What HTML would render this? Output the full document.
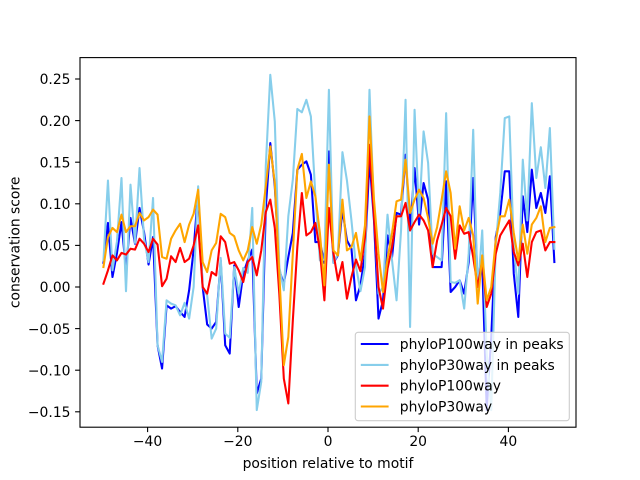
<!DOCTYPE html>
<html><head><meta charset="utf-8"><style>
html,body{margin:0;padding:0;background:#fff;}
svg{display:block;}
text{font-family:"DejaVu Sans","Liberation Sans",sans-serif;font-size:13.9px;fill:#000;}
</style></head><body>
<svg width="640" height="480" viewBox="0 0 640 480" xmlns="http://www.w3.org/2000/svg">
<rect x="0" y="0" width="640" height="480" fill="#fff"/>
<defs><clipPath id="ax"><rect x="80" y="57.6" width="496" height="369.6"/></clipPath></defs>
<g clip-path="url(#ax)" fill="none" stroke-width="2.08" stroke-linejoin="round" stroke-linecap="square">
<polyline vector-effect="non-scaling-stroke" stroke="#0000ff" transform="matrix(4.5091 0 0 -0.832 103.45 287)" points="0,29 1,77 2,12 3,41 4,78 5,20 6,83 7,52 8,95 9,66 10,27 11,60 12,-70 13,-98 14,-22 15,-26 16,-23 17,-30 18,-36 19,-4 20,45 21,115 22,0 23,-45 24,-50 25,-42 26,32 27,-70 28,-80 29,26 30,-24 31,16 32,32 33,45 34,-128 35,-110 36,95 37,173 38,121 39,20 40,4 41,36 42,65 43,141 44,147 45,151 46,135 47,54 48,54 49,29 50,163 51,29 52,38 53,93 54,56 55,46 56,-16 57,2 58,40 59,153 60,80 61,-38 62,-16 63,62 64,36 65,89 66,87 67,159 68,68 69,143 70,75 71,125 72,105 73,24 74,24 75,24 76,127 77,-6 78,0 79,8 80,-8 81,30 82,131 83,4 84,30 85,-148 86,-60 87,60 88,89 89,139 90,139 91,16 92,-36 93,109 94,66 95,141 96,95 97,113 98,89 99,133 100,30"/>
<polyline vector-effect="non-scaling-stroke" stroke="#87ceeb" transform="matrix(4.5091 0 0 -0.832 103.45 287)" points="0,32 1,128 2,20 3,55 4,131 5,-5 6,123 7,53 8,143 9,58 10,30 11,107 12,-70 13,-90 14,-16 15,-20 16,-22 17,-34 18,-19 19,-38 20,0 21,121 22,0 23,-10 24,-62 25,-50 26,35 27,-56 28,-61 29,24 30,-8 31,23 32,17 33,95 34,-148 35,-114 36,145 37,255 38,199 39,24 40,-4 41,85 42,129 43,214 44,210 45,225 46,205 47,110 48,32 49,33 50,237 51,29 52,40 53,162 54,128 55,80 56,25 57,-5 58,24 59,237 60,93 61,-8 62,0 63,87 64,32 65,-16 66,68 67,225 68,-48 69,213 70,85 71,187 72,149 73,40 74,36 75,32 76,209 77,6 78,5 79,8 80,-26 81,40 82,189 83,-8 84,68 85,-80 86,-148 87,50 88,113 89,203 90,205 91,48 92,-8 93,153 94,80 95,221 96,131 97,168 98,119 99,191 100,46"/>
<polyline vector-effect="non-scaling-stroke" stroke="#ff0000" transform="matrix(4.5091 0 0 -0.832 103.45 287)" points="0,4 1,20 2,38 3,32 4,41 5,39 6,46 7,45 8,58 9,52 10,42 11,58 12,51 13,1 14,10 15,37 16,30 17,47 18,30 19,34 20,50 21,74 22,0 23,-8 24,18 25,14 26,61 27,54 28,28 29,30 30,20 31,6 32,30 33,36 34,14 35,44 36,90 37,105 38,71 39,-8 40,-110 41,-140 42,-40 43,48 44,113 45,62 46,66 47,77 48,44 49,-16 50,95 51,41 52,8 53,30 54,-14 55,12 56,33 57,19 58,60 59,171 60,85 61,0 62,-26 63,22 64,48 65,85 66,85 67,101 68,68 69,78 70,87 71,80 72,68 73,24 74,56 75,75 76,95 77,85 78,34 79,74 80,64 81,66 82,36 83,0 84,32 85,-24 86,-8 87,40 88,62 89,71 90,80 91,42 92,26 93,52 94,12 95,54 96,66 97,68 98,44 99,54 100,54"/>
<polyline vector-effect="non-scaling-stroke" stroke="#ffa500" transform="matrix(4.5091 0 0 -0.832 103.45 287)" points="0,24 1,60 2,71 3,66 4,87 5,66 6,73 7,73 8,89 9,80 10,84 11,93 12,87 13,36 14,34 15,58 16,68 17,76 18,54 19,75 20,88 21,117 22,30 23,18 24,44 25,53 26,88 27,84 28,65 29,61 30,44 31,32 32,44 33,72 34,52 35,75 36,121 37,169 38,125 39,16 40,-94 41,-60 42,40 43,141 44,160 45,107 46,127 47,109 48,65 49,2 50,147 51,44 52,38 53,105 54,44 55,48 56,65 57,32 58,74 59,205 60,105 61,40 62,-6 63,34 64,65 65,103 66,105 67,153 68,89 69,105 70,117 71,107 72,83 73,52 74,72 75,105 76,139 77,113 78,46 79,97 80,68 81,83 82,62 83,-20 84,38 85,-16 86,0 87,56 88,85 89,85 90,105 91,65 92,32 93,75 94,40 95,75 96,83 97,97 98,54 99,71 100,72"/>
</g>
<rect x="80" y="57.6" width="496" height="369.6" fill="none" stroke="#000" stroke-width="1.1"/>
<g stroke="#000" stroke-width="1.1">
<line x1="147.6" y1="427.2" x2="147.6" y2="432.1"/>
<line x1="237.8" y1="427.2" x2="237.8" y2="432.1"/>
<line x1="328" y1="427.2" x2="328" y2="432.1"/>
<line x1="418.2" y1="427.2" x2="418.2" y2="432.1"/>
<line x1="508.4" y1="427.2" x2="508.4" y2="432.1"/>
<line x1="75.1" y1="411.8" x2="80" y2="411.8"/>
<line x1="75.1" y1="370.2" x2="80" y2="370.2"/>
<line x1="75.1" y1="328.6" x2="80" y2="328.6"/>
<line x1="75.1" y1="287" x2="80" y2="287"/>
<line x1="75.1" y1="245.4" x2="80" y2="245.4"/>
<line x1="75.1" y1="203.8" x2="80" y2="203.8"/>
<line x1="75.1" y1="162.2" x2="80" y2="162.2"/>
<line x1="75.1" y1="120.6" x2="80" y2="120.6"/>
<line x1="75.1" y1="79" x2="80" y2="79"/>
</g>
<g text-anchor="middle">
<text x="147.6" y="446">−40</text>
<text x="237.8" y="446">−20</text>
<text x="328" y="446">0</text>
<text x="418.2" y="446">20</text>
<text x="508.4" y="446">40</text>
<text x="328" y="468">position relative to motif</text>
</g>
<g text-anchor="end">
<text x="70.5" y="417">−0.15</text>
<text x="70.5" y="375.4">−0.10</text>
<text x="70.5" y="333.8">−0.05</text>
<text x="70.5" y="292.2">0.00</text>
<text x="70.5" y="250.6">0.05</text>
<text x="70.5" y="209">0.10</text>
<text x="70.5" y="167.4">0.15</text>
<text x="70.5" y="125.8">0.20</text>
<text x="70.5" y="84.2">0.25</text>
</g>
<text transform="translate(19.3,242.4) rotate(-90)" text-anchor="middle">conservation score</text>
<rect x="355.3" y="332.3" width="214" height="88.4" rx="2.8" ry="2.8" fill="#fff" fill-opacity="0.8" stroke="#cccccc" stroke-width="1.1"/>
<g stroke-width="2.08">
<line x1="360.8" y1="344" x2="388.6" y2="344" stroke="#0000ff"/>
<line x1="360.8" y1="364.9" x2="388.6" y2="364.9" stroke="#87ceeb"/>
<line x1="360.8" y1="385.7" x2="388.6" y2="385.7" stroke="#ff0000"/>
<line x1="360.8" y1="406.5" x2="388.6" y2="406.5" stroke="#ffa500"/>
</g>
<text x="399.8" y="349">phyloP100way in peaks</text>
<text x="399.8" y="369.9">phyloP30way in peaks</text>
<text x="399.8" y="390.7">phyloP100way</text>
<text x="399.8" y="411.5">phyloP30way</text>
</svg>
</body></html>
